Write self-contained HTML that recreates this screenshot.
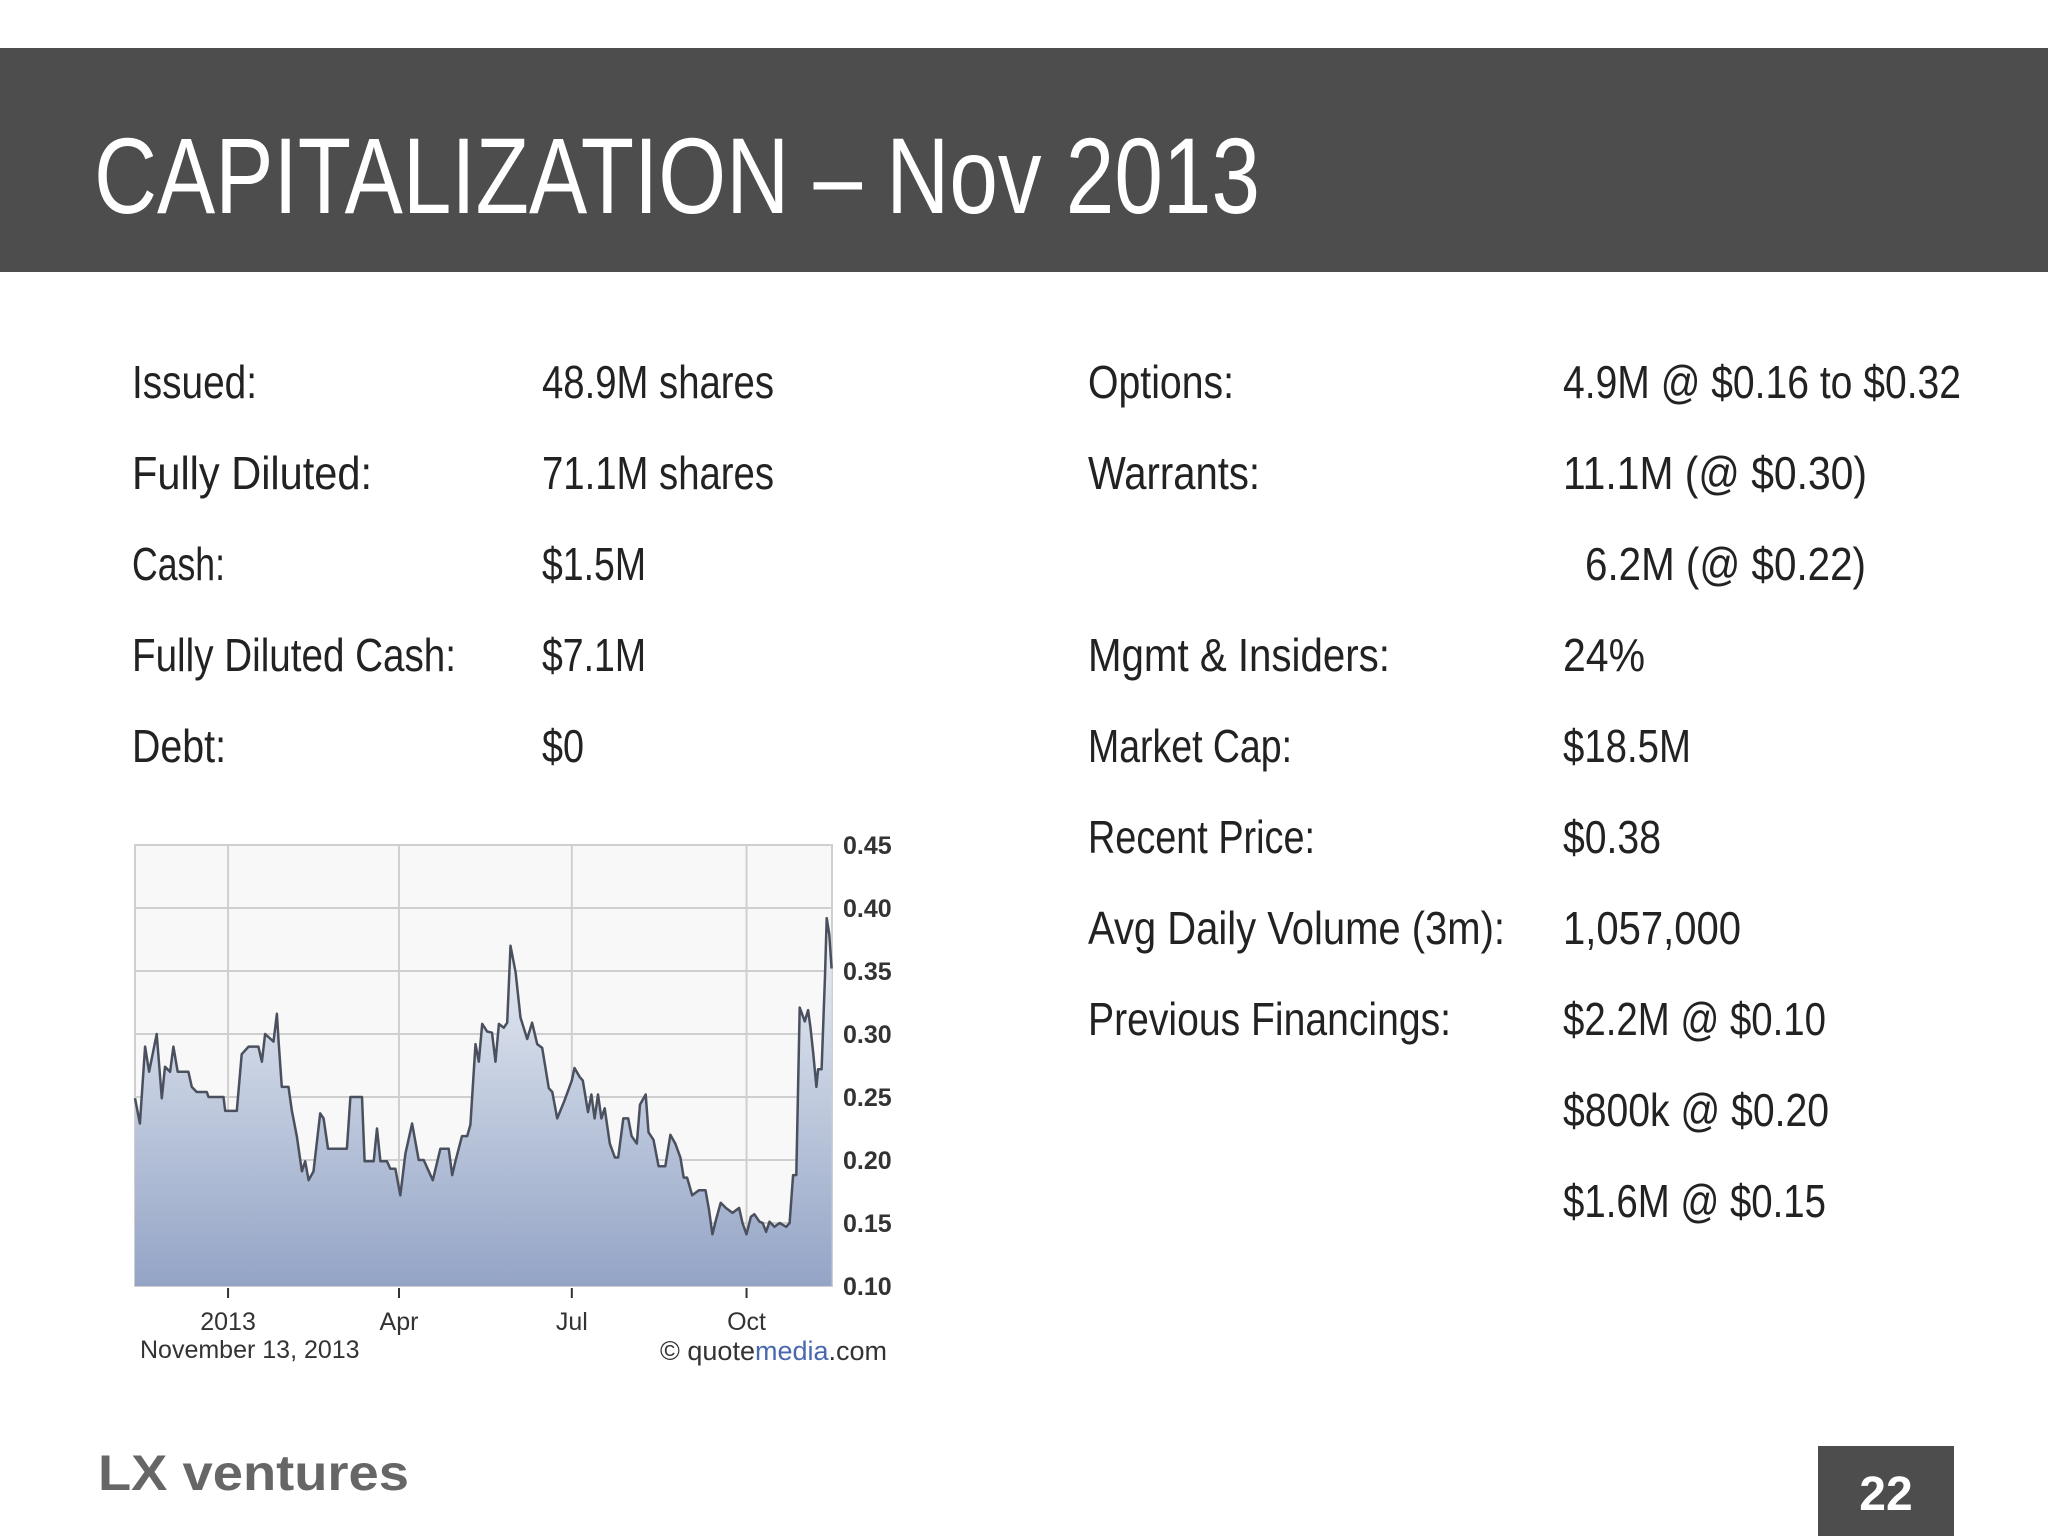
<!DOCTYPE html>
<html><head><meta charset="utf-8"><style>
html,body{margin:0;padding:0;background:#fff;}
svg{display:block;}
text{font-family:"Liberation Sans",sans-serif;}
</style></head><body>
<svg id="s" width="2048" height="1536" viewBox="0 0 2048 1536" xmlns="http://www.w3.org/2000/svg">
<defs>
<linearGradient id="fillg" x1="0" y1="0" x2="0" y2="1">
<stop offset="0" stop-color="#f0f2f6"/><stop offset="0.45" stop-color="#c4cee0"/><stop offset="1" stop-color="#94a4c6"/>
</linearGradient>
</defs>
<rect x="0" y="48" width="2048" height="224" fill="#4d4d4d"/>
<text x="94" y="213" font-size="108" fill="#fff" textLength="1166" lengthAdjust="spacingAndGlyphs">CAPITALIZATION – Nov 2013</text>
<g id="rows" fill="#222" font-size="46"></g>
<g id="chart"></g>
<g>
<text x="98" y="1490" font-size="50" font-weight="bold" fill="#666" textLength="311" lengthAdjust="spacingAndGlyphs">LX ventures</text>
</g>
<rect x="1818" y="1446" width="136" height="90" fill="#4d4d4d"/>
<text x="1886" y="1510" font-size="48" font-weight="bold" fill="#fff" text-anchor="middle">22</text>
</svg>
<script>
var NS="http://www.w3.org/2000/svg";
var rowsText=[
[132,0,"Issued:",125],[542,0,"48.9M shares",232],
[132,1,"Fully Diluted:",240],[542,1,"71.1M shares",232],
[132,2,"Cash:",93],[542,2,"$1.5M",104],
[132,3,"Fully Diluted Cash:",324],[542,3,"$7.1M",104],
[132,4,"Debt:",94],[542,4,"$0",42],
[1088,0,"Options:",146],[1563,0,"4.9M @ $0.16 to $0.32",398],
[1088,1,"Warrants:",172],[1563,1,"11.1M  (@ $0.30)",304],
[1585,2,"6.2M  (@ $0.22)",281],
[1088,3,"Mgmt & Insiders:",302],[1563,3,"24%",82],
[1088,4,"Market Cap:",204],[1563,4,"$18.5M",128],
[1088,5,"Recent Price:",227],[1563,5,"$0.38",98],
[1088,6,"Avg Daily Volume (3m):",417],[1563,6,"1,057,000",178],
[1088,7,"Previous Financings:",363],[1563,7,"$2.2M @ $0.10",263],
[1563,8,"$800k @ $0.20",266],[1563,9,"$1.6M @ $0.15",263]];
var rg=document.getElementById('rows');
rowsText.forEach(function(r){
 var t=document.createElementNS(NS,'text');
 t.setAttribute('x',r[0]);t.setAttribute('y',398+91*r[1]);
 t.setAttribute('textLength',r[3]);t.setAttribute('lengthAdjust','spacingAndGlyphs');
 t.textContent=r[2];
 
 
 rg.appendChild(t);
});

// chart data
var days=[0,2.6,5.3,7.4,11.4,14.1,15.8,18.5,20.2,22.5,28.1,29.9,32.5,37.8,38.7,46.6,47.5,53.6,56.2,59.8,65,66.8,68.5,72.9,74.7,75.6,77.3,80.8,82.6,85.2,87.9,89.6,91.4,94,97.5,99.3,101.6,111.6,113.4,119.5,120.9,125.7,127.4,129.2,132.7,134.4,137.1,139.7,142.4,145.9,149.4,152,154.7,156.8,160.8,165.2,167,168.7,172.2,174.9,176.6,179.3,181,182.8,185.4,188,189.8,191.6,194.2,196,197.7,200.4,203,206.5,209.1,211.8,214.4,217.9,219.7,222.3,226.1,230,231.4,234.1,235.8,238.5,240.3,242,243.8,245.6,247.3,250,252.7,254.4,257.1,259.7,261.5,264.2,265.9,268.9,270.4,273,275.7,279.2,281.9,284.5,287.2,288.9,290.7,293.4,296.9,300.4,302.2,304,305.8,308.4,311.1,314.6,318.1,319.9,322,324.3,326.1,328.8,330.5,332.3,334.1,336.7,339.4,342.9,344.7,346.5,348.2,350,352.7,354.4,355.7,357.1,358.8,359.7,361.5,363.3,364.2,365.6,366.8];
var prices=[0.249,0.229,0.290,0.270,0.300,0.249,0.274,0.270,0.290,0.270,0.270,0.258,0.254,0.254,0.250,0.250,0.239,0.239,0.284,0.290,0.290,0.278,0.300,0.294,0.316,0.294,0.258,0.258,0.239,0.219,0.191,0.199,0.184,0.191,0.237,0.233,0.209,0.209,0.250,0.250,0.199,0.199,0.225,0.199,0.199,0.193,0.193,0.172,0.205,0.229,0.200,0.200,0.191,0.184,0.209,0.209,0.188,0.199,0.219,0.219,0.228,0.292,0.278,0.308,0.302,0.301,0.278,0.308,0.305,0.309,0.370,0.349,0.313,0.296,0.309,0.292,0.289,0.257,0.254,0.233,0.247,0.263,0.273,0.266,0.263,0.238,0.252,0.233,0.252,0.233,0.241,0.213,0.202,0.202,0.233,0.233,0.219,0.213,0.244,0.252,0.222,0.216,0.195,0.195,0.220,0.213,0.202,0.186,0.186,0.172,0.176,0.176,0.161,0.141,0.152,0.166,0.162,0.158,0.162,0.150,0.141,0.155,0.157,0.151,0.150,0.143,0.151,0.147,0.150,0.147,0.150,0.188,0.188,0.321,0.310,0.319,0.305,0.285,0.258,0.272,0.272,0.346,0.392,0.379,0.352];
var yTicks=[0.45,0.40,0.35,0.30,0.25,0.20,0.15,0.10];
var yTickLabels=["0.45","0.40","0.35","0.30","0.25","0.20","0.15","0.10"];
var xTickDays=[49,139,230,322];
var xTickLabels=["2013","Apr","Jul","Oct"];

var L=135,R=832,T=845,B=1286,D0=0,D1=367,V0=0.10,V1=0.45;
function X(d){return L+(d-D0)/(D1-D0)*(R-L);}
function Y(v){return B-(v-V0)/(V1-V0)*(B-T);}
var ch=document.getElementById('chart');
function el(tag,attrs,name,txt){var e=document.createElementNS(NS,tag);for(var k in attrs)e.setAttribute(k,attrs[k]);if(txt!==undefined)e.textContent=txt;
 
 
 ch.appendChild(e);return e;}
el('rect',{x:L,y:T,width:R-L,height:B-T,fill:'#f8f8f8',stroke:'#cfcfcf','stroke-width':2},'plot-area');
yTicks.forEach(function(v,i){
 el('line',{x1:L,x2:R,y1:Y(v),y2:Y(v),stroke:'#cfcfcf','stroke-width':2},'y-gridline');
 el('text',{x:843,y:Y(v)+9,'font-size':25,fill:'#333','font-weight':'bold'},'y-tick-label',yTickLabels[i]);
});
xTickDays.forEach(function(d,i){
 el('line',{x1:X(d),x2:X(d),y1:T,y2:B,stroke:'#cfcfcf','stroke-width':2},'x-gridline');
 el('line',{x1:X(d),x2:X(d),y1:B+2,y2:B+12,stroke:'#333','stroke-width':2},'x-tick');
 el('text',{x:X(d),y:1330,'font-size':25,fill:'#333','text-anchor':'middle'},'x-tick-label',xTickLabels[i]);
});
var pts=days.map(function(d,i){return X(d).toFixed(1)+','+Y(prices[i]).toFixed(1);});
el('path',{d:'M'+X(days[0])+','+B+' L'+pts.join(' L')+' L'+X(days[days.length-1])+','+B+' Z',fill:'url(#fillg)'},'price-area');
el('path',{d:'M'+pts.join(' L'),fill:'none',stroke:'#4a505e','stroke-width':2.5,'stroke-linejoin':'round'},'price-line');
el('text',{x:140,y:1358,'font-size':25,fill:'#333'},'chart-date','November 13, 2013');
var q=el('text',{x:660,y:1360,'font-size':27,fill:'#333'},'quotemedia-credit','');
q.innerHTML='© quote<tspan fill="#4a68b0">media</tspan>.com';
</script>
</body></html>
